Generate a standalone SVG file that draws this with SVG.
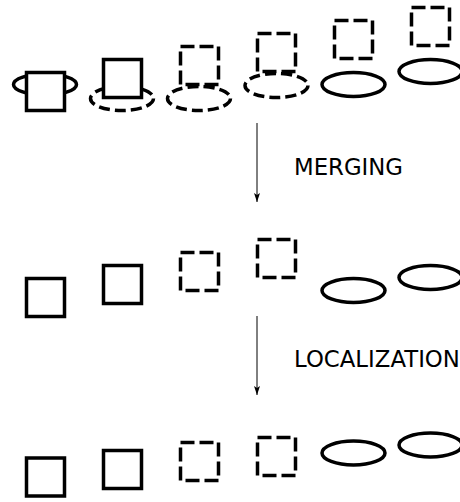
<svg xmlns="http://www.w3.org/2000/svg" width="460" height="502" viewBox="0 0 460 502">
<style>
.s{fill:#fff;stroke:#000;stroke-width:3.5}
.d{stroke-dasharray:14,5}
.de{stroke-dasharray:11,5}
.e{fill:none;stroke:#000;stroke-width:3.5}
.c{stroke:#000;stroke-width:1;fill:none}
.t{font-family:"DejaVu Sans",sans-serif;font-size:22.8px;fill:#000}
</style>
<defs>
<marker id="ah" markerWidth="10" markerHeight="8" refX="9" refY="4" orient="auto" markerUnits="userSpaceOnUse" viewBox="0 0 10 8">
<path d="M0,1 L9,4 L0,7 L2,4 Z" fill="#000"/>
</marker>
</defs>
<rect width="460" height="502" fill="#fff"/>
<g id="row1">
<g id="r1c1"><ellipse class="e" cx="45" cy="84.5" rx="31.5" ry="10.5"/><rect class="s" x="26.5" y="72.5" width="38" height="38"/></g>
<g id="r1c2"><ellipse class="e de" cx="122" cy="98.5" rx="31.5" ry="12"/><rect class="s" x="103.5" y="59.5" width="38" height="38"/></g>
<g id="r1c3"><ellipse class="e de" cx="199" cy="98.5" rx="31.5" ry="12"/><rect class="s d" x="180.5" y="46.5" width="38" height="38"/></g>
<g id="r1c4"><ellipse class="e de" cx="276.5" cy="85.5" rx="31.5" ry="12"/><rect class="s d" x="257.5" y="33.5" width="38" height="38"/></g>
<g id="r1c5"><ellipse class="e" cx="353.5" cy="84.5" rx="31.5" ry="12"/><rect class="s d" x="334.5" y="20.5" width="38" height="38"/></g>
<g id="r1c6"><ellipse class="e" cx="430.5" cy="71.5" rx="31.5" ry="12"/><rect class="s d" x="411.5" y="7.5" width="38" height="38"/></g>
</g>
<g id="row2">
<g id="r2c1"><rect class="s" x="26.5" y="278.5" width="38" height="38"/></g>
<g id="r2c2"><rect class="s" x="103.5" y="265.5" width="38" height="38"/></g>
<g id="r2c3"><rect class="s d" x="180.5" y="252.5" width="38" height="38"/></g>
<g id="r2c4"><rect class="s d" x="257.5" y="239.5" width="38" height="38"/></g>
<g id="r2c5"><ellipse class="e" cx="353.5" cy="290.5" rx="31.5" ry="12"/></g>
<g id="r2c6"><ellipse class="e" cx="430.5" cy="277.5" rx="31.5" ry="12"/></g>
</g>
<g id="row3">
<g id="r3c1"><rect class="s" x="26.5" y="458" width="38" height="38"/></g>
<g id="r3c2"><rect class="s" x="103.5" y="450.5" width="38" height="38"/></g>
<g id="r3c3"><rect class="s d" x="180.5" y="442.5" width="38" height="38"/></g>
<g id="r3c4"><rect class="s d" x="257.5" y="437.5" width="38" height="38"/></g>
<g id="r3c5"><ellipse class="e" cx="353.5" cy="453" rx="31.5" ry="12"/></g>
<g id="r3c6"><ellipse class="e" cx="430.5" cy="445" rx="31.5" ry="12"/></g>
</g>
<g id="connectors">
<line class="c" x1="257" y1="123" x2="257" y2="202" marker-end="url(#ah)"/>
<line class="c" x1="257" y1="316" x2="257" y2="395" marker-end="url(#ah)"/>
</g>
<g id="labels">
<text class="t" x="294" y="175">MERGING</text>
<text class="t" x="294" y="367">LOCALIZATION</text>
</g>
</svg>
